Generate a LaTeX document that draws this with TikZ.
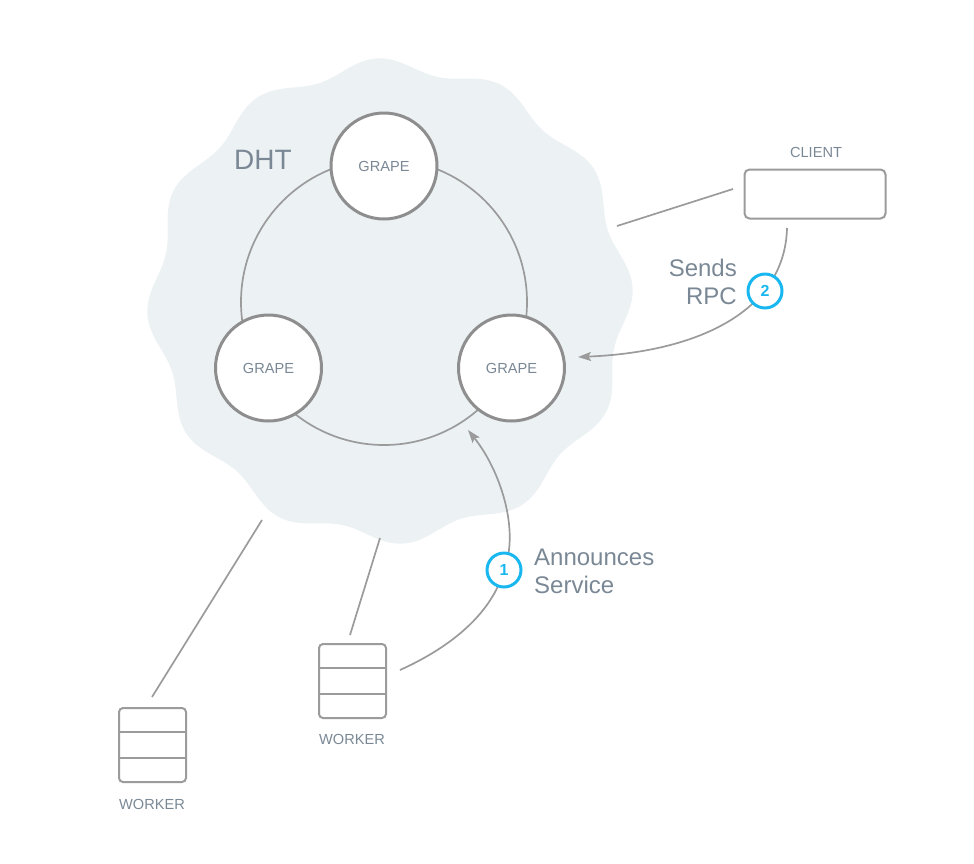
\documentclass[tikz,border=0pt]{standalone}
\usepackage{fontspec}
\setmainfont{Liberation Sans}
\usetikzlibrary{arrows.meta,calc}
\definecolor{cloudc}{RGB}{236,241,244}
\definecolor{linec}{RGB}{155,155,155}
\definecolor{grapec}{RGB}{142,142,142}
\definecolor{txtc}{RGB}{122,136,149}
\definecolor{badgec}{RGB}{25,183,240}
\newcommand\lblfont{\fontsize{14.6}{16}\selectfont}
\newcommand\bigfont{\fontsize{24}{28}\selectfont}
\begin{document}
\begin{tikzpicture}[x=1pt,y=-1pt,
  conn/.style={draw=linec, line width=1.7pt},
  arr/.style={conn, -{Stealth[length=13pt,width=9pt,inset=2.5pt]}},
  grape/.style={circle, draw=grapec, line width=3pt, fill=white, minimum size=106pt, inner sep=0pt, text=txtc, font=\lblfont},
  wbox/.style={draw=linec, line width=2pt, rounded corners=4pt, minimum width=67pt, minimum height=74pt, inner sep=0pt, fill=white},
  cbox/.style={draw=linec, line width=2pt, rounded corners=5pt, minimum width=141pt, minimum height=49pt, inner sep=0pt, fill=white},
  lbl/.style={text=txtc, font=\lblfont, inner sep=0pt},
  big/.style={text=txtc, font=\bigfont, inner sep=0pt},
  badge/.style={circle, draw=badgec, line width=3pt, fill=white, minimum size=34pt, inner sep=0pt, text=badgec, font=\fontsize{16}{16}\selectfont\bfseries}
]
\useasboundingbox (0,0) rectangle (974,863);
% cloud
\fill[cloudc] plot[domain=0:357, samples=120, smooth cycle]
  ({390+(236+7*cos(12*(\x-3)))*cos(\x)}, {301-(236+7*cos(12*(\x-3)))*sin(\x)});
% ring
\coordinate (ringc) at (384,302);
\draw[conn] (ringc) circle[radius=143];
% grapes
\node[grape] (g1) at (384,166) {GRAPE};
\node[grape] (g2) at (268.5,368) {GRAPE};
\node[grape] (g3) at (511.5,368) {GRAPE};
\node[big, font=\fontsize{28}{30}\selectfont] (dht) at (263,160) {DHT};
% client
\node[cbox] (client) at (815,194) {};
\node[lbl] (clientl) at (816,152) {CLIENT};
% workers
\node[wbox] (w1) at (152.5,745) {};
\node[wbox] (w2) at (352.5,681) {};
\foreach \w in {w1,w2}{
  \draw[draw=linec, line width=2pt] ($(\w.north west)!1/3!(\w.south west)$) -- ($(\w.north east)!1/3!(\w.south east)$);
  \draw[draw=linec, line width=2pt] ($(\w.north west)!2/3!(\w.south west)$) -- ($(\w.north east)!2/3!(\w.south east)$);
}
\node[lbl] (w1l) at (152,804) {WORKER};
\node[lbl] (w2l) at (352,739) {WORKER};
% connector end points
\coordinate (w1t) at (152,697);
\coordinate (c1) at (262,520);
\coordinate (w2t) at (350,635);
\coordinate (c2) at (380,538);
\coordinate (clw) at (733,189);
\coordinate (c3) at (617,226);
\coordinate (clb) at (787,228);
\coordinate (tip2) at (578,357);
\coordinate (w2r) at (400,670);
\coordinate (tip1) at (468,430);
\coordinate (b1) at (504,570);
\coordinate (b2) at (765,291);
% lines
\draw[conn] (w1t) -- (c1);
\draw[conn] (w2t) -- (c2);
\draw[conn] (clw) -- (c3);
% arrows
\draw[arr] (clb) .. controls (785,310) and (700,352) .. (tip2);
\draw[arr] (w2r) .. controls (440,652) and (490,620) .. (b1)
               .. controls (520,530) and (500,470) .. (tip1);
% badges
\node[badge] (n1) at (b1) {1};
\node[badge] (n2) at (b2) {2};
% labels
\node[big, anchor=west, align=left] (ann) at (534,571) {Announces\\Service};
\node[big, anchor=east, align=right] (rpc) at (737,282) {Sends\\RPC};
\end{tikzpicture}
\end{document}
